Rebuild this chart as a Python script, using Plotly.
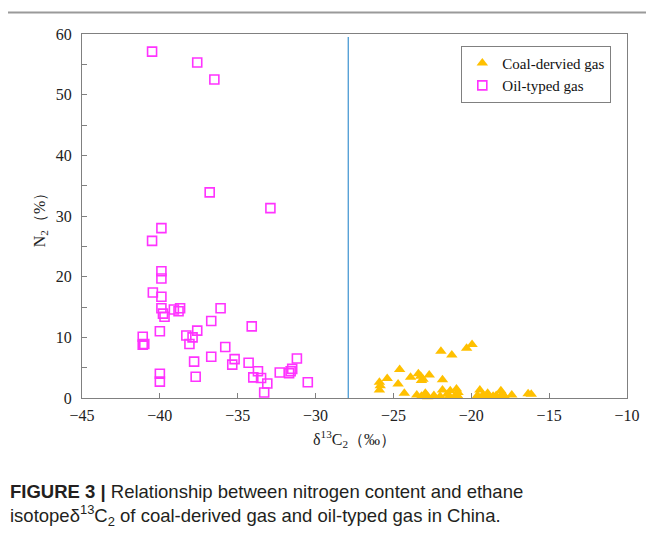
import plotly.graph_objects as go

# oil-typed gas: delta13C2 (per mil) and N2 (%)
oil_d13c2 = [-40.5, -37.6, -36.5, -36.8, -32.9, -39.9, -40.5, -39.9, -39.9, -40.45,
             -39.9, -39.9, -39.8, -39.7, -39.1, -38.8, -38.7, -36.1, -36.7, -34.1,
             -40.0, -41.1, -41.1, -41.0, -38.3, -37.9, -37.6, -38.1, -35.8, -36.7,
             -35.2, -35.35, -37.8, -34.3, -31.2, -31.5, -31.6, -31.7, -32.3, -33.7,
             -34.0, -33.5, -33.1, -33.3, -30.5, -40.0, -40.0, -37.7]
oil_n2 = [57.1, 55.3, 52.5, 33.9, 31.3, 28.0, 25.9, 20.9, 19.7, 17.4,
          16.7, 14.8, 13.9, 13.4, 14.6, 14.3, 14.8, 14.8, 12.7, 11.8,
          11.0, 10.1, 8.8, 8.9, 10.3, 10.0, 11.1, 8.9, 8.4, 6.8,
          6.4, 5.5, 6.0, 5.8, 6.5, 4.8, 4.4, 4.1, 4.2, 4.4,
          3.4, 3.3, 2.4, 0.9, 2.6, 4.0, 2.7, 3.5]

# coal-derived gas
coal_d13c2 = [-25.9, -25.85, -25.9, -25.4, -24.6, -24.7, -24.3, -23.9, -23.4, -23.25,
              -23.1, -22.7, -23.2, -21.95, -21.25, -20.3, -19.95, -21.85, -21.85, -21.35,
              -20.95, -20.85, -22.95, -23.2, -22.9, -22.8, -22.4, -22.0, -21.55, -21.4,
              -21.0, -20.85, -19.45, -19.25, -18.95, -18.6, -18.1, -17.9, -17.4, -16.35,
              -16.15, -19.0, -18.4, -18.0, -23.5, -19.6]
coal_n2 = [2.6, 2.0, 1.3, 3.2, 4.7, 2.3, 0.8, 3.4, 4.0, 3.6,
           3.1, 3.8, 2.9, 7.7, 7.1, 8.2, 8.8, 3.0, 1.3, 1.2,
           1.5, 0.9, 0.8, 0.3, 0.5, 0.2, 0.4, 0.3, 0.6, 0.3,
           0.5, 0.3, 1.3, 0.5, 0.8, 0.3, 1.2, 0.4, 0.5, 0.7,
           0.6, 0.3, 0.4, 0.7, 0.5, 0.4]

boundary = -27.9

serif = 'Liberation Serif, Times New Roman, serif'
axis_col = '#808080'

fig = go.Figure()

fig.add_trace(go.Scatter(
    x=coal_d13c2, y=coal_n2, mode='markers', name='Coal-dervied gas',
    marker=dict(symbol='triangle-up', size=10, color='#FFC000', line=dict(width=0)),
    cliponaxis=False
))
fig.add_trace(go.Scatter(
    x=oil_d13c2, y=oil_n2, mode='markers', name='Oil-typed gas',
    marker=dict(symbol='square-open', size=9, color='#FF33FF', line=dict(width=1.6)),
    cliponaxis=False
))

# boundary line between the two gas types
fig.add_shape(type='line', x0=boundary, x1=boundary, y0=0, y1=59.5,
              xref='x', yref='y', line=dict(color='#4A9AD4', width=1.3))

# page rule above the figure
fig.add_shape(type='line', xref='paper', yref='paper', x0=-0.136, x1=1.06,
              y0=1.059, y1=1.059, line=dict(color='#9a9a9a', width=2))

caption = ('<b>FIGURE 3 |</b> Relationship between nitrogen content and ethane<br>'
           'isotopeδ<sup>13</sup>C<sub>2</sub> of coal-derived gas and oil-typed gas in China.')
fig.add_annotation(text=caption, xref='paper', yref='paper', x=-0.136, y=-0.222,
                   xanchor='left', yanchor='top', align='left', showarrow=False,
                   font=dict(family='Liberation Sans, Arial, sans-serif', size=18.5, color='#231f20'))

fig.update_layout(
    width=646, height=526,
    margin=dict(l=74, r=27, t=26, b=136),
    plot_bgcolor='white', paper_bgcolor='white',
    font=dict(family=serif, size=16, color='#222'),
    showlegend=True,
    legend=dict(x=0.696, y=0.968, xanchor='left', yanchor='top',
                bordercolor=axis_col, borderwidth=1, bgcolor='white',
                font=dict(family=serif, size=15, color='#111'),
                tracegroupgap=4),
    xaxis=dict(range=[-45, -10], dtick=5, showgrid=False, zeroline=False,
               showline=True, linecolor=axis_col, linewidth=1, mirror=True,
               ticks='inside', ticklen=5, tickcolor=axis_col, ticklabelstandoff=3,
               title=dict(text='δ<sup>13</sup>C<sub>2</sub>（‰）', font=dict(size=16), standoff=10)),
    yaxis=dict(range=[0, 60], dtick=10, showgrid=False, zeroline=False,
               showline=True, linecolor=axis_col, linewidth=1, mirror=True,
               ticks='inside', ticklen=5, tickcolor=axis_col, ticklabelstandoff=6,
               minor=dict(dtick=5, ticks='inside', ticklen=5, tickcolor=axis_col),
               title=dict(text='N<sub>2</sub>（%）', font=dict(size=16), standoff=6)),
)

fig.write_html('out.html')
